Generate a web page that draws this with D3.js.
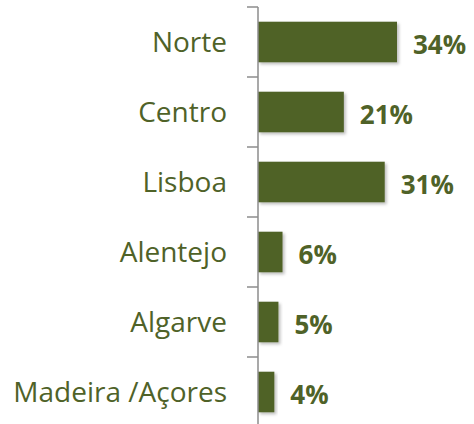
<!DOCTYPE html>
<html>
<head>
<meta charset="utf-8">
<script src="https://cdn.jsdelivr.net/npm/d3@7"></script>
<style>
  body { margin: 0; background: #fff; }
  svg text { font-family: "Open Sans", "Noto Sans", sans-serif; }
</style>
</head>
<body>
<svg id="chart"></svg>
<script>
// data
const regions = ["Norte", "Centro", "Lisboa", "Alentejo", "Algarve", "Madeira /Açores"];
const shares = [34, 21, 31, 6, 5, 4];
const valueLabels = ["34%", "21%", "31%", "6%", "5%", "4%"];

const config = {
    width: 474,
    height: 424,
    margin: {top: 7, right: 10, bottom: -3, left: 258},
    barColor: "#4f6228",
    textColor: "#4f6228",
    axisColor: "#8c8c8c"
};

const innerHeight = config.height - config.margin.top - config.margin.bottom;

const svg = d3.select("#chart")
    .attr("width", config.width)
    .attr("height", config.height);

// soft shadow like the office chart
const defs = svg.append("defs");
const shadow = defs.append("filter").attr("id", "shadow")
    .attr("x", "-10%").attr("y", "-20%").attr("width", "130%").attr("height", "150%");
shadow.append("feDropShadow")
    .attr("dx", 2).attr("dy", 2).attr("stdDeviation", 1.5)
    .attr("flood-color", "#000").attr("flood-opacity", 0.25);

const chart = svg.append("g")
    .attr("transform", `translate(${config.margin.left},${config.margin.top})`);

// scales
const yScale = d3.scaleBand()
    .domain(regions)
    .range([0, innerHeight])
    .paddingInner(0.42)
    .paddingOuter(0.21);

const xScale = d3.scaleLinear()
    .domain([0, 34])
    .range([0, 139]);

// bars
chart.selectAll("rect.bar")
    .data(regions)
    .enter()
    .append("rect")
    .attr("class", "bar")
    .attr("x", 0)
    .attr("y", d => yScale(d))
    .attr("width", (d, i) => xScale(shares[i]))
    .attr("height", yScale.bandwidth())
    .attr("fill", config.barColor)
    .attr("filter", "url(#shadow)");

// value labels
chart.selectAll("text.value")
    .data(regions)
    .enter()
    .append("text")
    .attr("class", "value")
    .attr("x", (d, i) => xScale(shares[i]) + 16)
    .attr("y", d => yScale(d) + yScale.bandwidth() / 2 + 3)
    .attr("dy", "0.35em")
    .attr("fill", config.textColor)
    .attr("font-weight", "bold")
    .attr("font-size", "26px")
    .text((d, i) => valueLabels[i]);

// category axis: line + ticks between categories
const step = yScale.step();
const boundaries = d3.range(regions.length + 1).map(i => i * step);

chart.append("line")
    .attr("x1", 0).attr("x2", 0)
    .attr("y1", 0).attr("y2", innerHeight)
    .attr("stroke", config.axisColor)
    .attr("stroke-width", 1.5);

chart.selectAll("line.tick")
    .data(boundaries)
    .enter()
    .append("line")
    .attr("class", "tick")
    .attr("x1", -11).attr("x2", 0)
    .attr("y1", d => d).attr("y2", d => d)
    .attr("stroke", config.axisColor)
    .attr("stroke-width", 1.5);

// category labels
chart.selectAll("text.cat")
    .data(regions)
    .enter()
    .append("text")
    .attr("class", "cat")
    .attr("x", -31)
    .attr("y", d => yScale(d) + yScale.bandwidth() / 2)
    .attr("dy", "0.35em")
    .attr("text-anchor", "end")
    .attr("fill", config.textColor)
    .attr("font-size", "28px")
    .text(d => d);
</script>
</body>
</html>
